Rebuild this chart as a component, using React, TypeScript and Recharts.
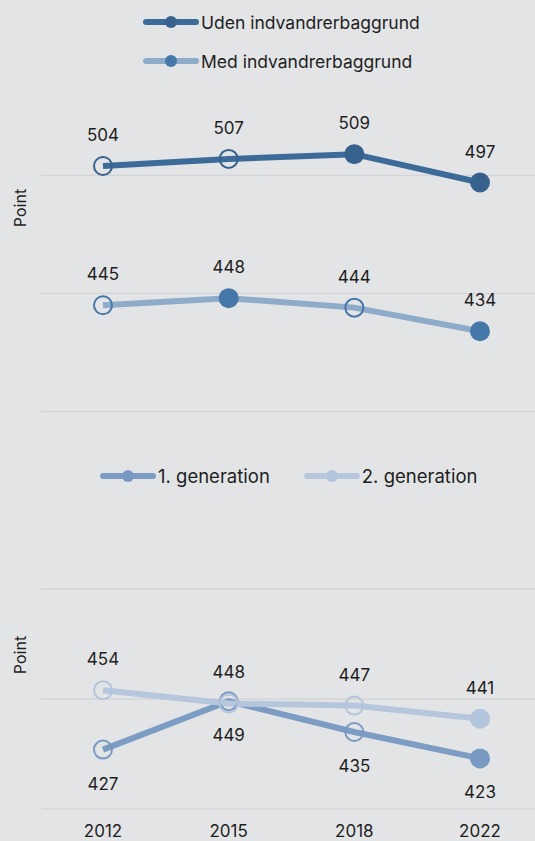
import React from "react";
import {
  LineChart,
  Line,
  XAxis,
  YAxis,
  ReferenceLine,
  LabelList,
  Legend,
} from "recharts";

// years on the x axis
const years = ["2012", "2015", "2018", "2022"];

// top panel
const uden = [504, 507, 509, 497];
const med = [445, 448, 444, 434];
const udenFilled = [false, false, true, true];
const medFilled = [false, true, false, true];

// bottom panel
const gen1 = [427, 449, 435, 423];
const gen2 = [454, 448, 447, 441];
const gen1Filled = [false, false, false, true];
const gen2Filled = [false, false, false, true];

const yTicks = [400, 450, 500];

const BG = "#e3e4e6";
const GRID = "#d3d4d6";
const TEXT = "#1e1e1e";
const FONT = "Inter, 'Noto Sans', sans-serif";

const topData = years.map((year, i) => ({ year, uden: uden[i], med: med[i] }));
const bottomData = years.map((year, i) => ({ year, gen1: gen1[i], gen2: gen2[i] }));

interface SeriesInfo {
  name: string;
  line: string;
  dot: string;
}

const topSeries: SeriesInfo[] = [
  { name: "Uden indvandrerbaggrund", line: "#3c6b9a", dot: "#38628e" },
  { name: "Med indvandrerbaggrund", line: "#8fabca", dot: "#4577a8" },
];

const bottomSeries: SeriesInfo[] = [
  { name: "1. generation", line: "#7c9cc4", dot: "#7999c2" },
  { name: "2. generation", line: "#b6c7dd", dot: "#b3c5dc" },
];

const makeDot = (filled: boolean[], color: string) => (p: any) => {
  const { cx, cy, index } = p;
  if (cx == null || cy == null) return <g key={`d-${index}`} />;
  return filled[index] ? (
    <circle key={`d-${index}`} cx={cx} cy={cy} r={10} fill={color} />
  ) : (
    <circle
      key={`d-${index}`}
      cx={cx}
      cy={cy}
      r={9}
      fill="none"
      stroke={color}
      strokeWidth={2}
    />
  );
};

const makeLabel = (dy: number) => (p: any) => {
  const vb = p.viewBox || {};
  const x = vb.x ?? p.x;
  const y = vb.y ?? p.y;
  if (x == null || y == null) return null;
  return (
    <text
      x={x}
      y={y + dy}
      textAnchor="middle"
      dominantBaseline="central"
      fill={TEXT}
      fontSize={17}
      fontFamily={FONT}
    >
      {p.value}
    </text>
  );
};

const AxisTitle = ({ cy }: { cy: number }) => (
  <text
    x={20}
    y={cy}
    transform={`rotate(-90 20 ${cy})`}
    textAnchor="middle"
    dominantBaseline="central"
    fill={TEXT}
    fontSize={16}
    fontFamily={FONT}
  >
    Point
  </text>
);

const LegendIcon = ({ s }: { s: SeriesInfo }) => (
  <svg width={58} height={14} style={{ display: "block" }}>
    <line x1={4} y1={7} x2={54} y2={7} stroke={s.line} strokeWidth={6} strokeLinecap="round" />
    <circle cx={29} cy={7} r={6} fill={s.dot} />
  </svg>
);

const LegendItem = ({ s, size }: { s: SeriesInfo; size: number }) => (
  <div style={{ display: "flex", alignItems: "center", height: 24 }}>
    <LegendIcon s={s} />
    <span style={{ fontSize: size, color: TEXT, fontFamily: FONT, marginLeft: 1 }}>{s.name}</span>
  </div>
);

const TopLegend = () => (
  <div style={{ display: "flex", flexDirection: "column", gap: 15, paddingLeft: 142 }}>
    {topSeries.map((s) => (
      <LegendItem key={s.name} s={s} size={17.5} />
    ))}
  </div>
);

const BottomLegend = () => (
  <div style={{ display: "flex", flexDirection: "row", gap: 33, paddingLeft: 99 }}>
    {bottomSeries.map((s) => (
      <LegendItem key={s.name} s={s} size={18.5} />
    ))}
  </div>
);

const gridLines = yTicks.map((t) => (
  <ReferenceLine key={t} y={t} stroke={GRID} strokeWidth={1.5} />
));

const App: React.FC = () => {
  return (
    <div
      style={{
        position: "absolute",
        left: 0,
        top: 0,
        width: 535,
        height: 841,
        background: BG,
        overflow: "hidden",
      }}
    >
      <LineChart
        width={535}
        height={440}
        data={topData}
        margin={{ top: 81, right: 0, left: 0, bottom: 28.5 }}
      >
        {gridLines}
        <XAxis dataKey="year" hide padding={{ left: 62, right: 55 }} />
        <YAxis
          width={41}
          domain={[400, 540]}
          ticks={yTicks}
          tick={false}
          axisLine={false}
          tickLine={false}
          label={<AxisTitle cy={208} />}
        />
        <Legend
          layout="horizontal"
          verticalAlign="middle"
          align="center"
          wrapperStyle={{ top: 10, left: 0, width: 535 }}
          content={() => <TopLegend />}
        />
        <Line
          dataKey="uden"
          name={topSeries[0].name}
          stroke={topSeries[0].line}
          strokeWidth={6}
          dot={makeDot(udenFilled, topSeries[0].dot)}
          activeDot={false}
          isAnimationActive={false}
        >
          <LabelList dataKey="uden" content={makeLabel(-31)} />
        </Line>
        <Line
          dataKey="med"
          name={topSeries[1].name}
          stroke={topSeries[1].line}
          strokeWidth={6}
          dot={makeDot(medFilled, topSeries[1].dot)}
          activeDot={false}
          isAnimationActive={false}
        >
          <LabelList dataKey="med" content={makeLabel(-31)} />
        </Line>
      </LineChart>

      <LineChart
        width={535}
        height={401}
        data={bottomData}
        margin={{ top: 149, right: 0, left: 0, bottom: 0 }}
      >
        {gridLines}
        <XAxis
          dataKey="year"
          height={32}
          padding={{ left: 62, right: 55 }}
          axisLine={false}
          tickLine={false}
          tickSize={6}
          tickMargin={10}
          tick={{ fill: TEXT, fontSize: 17, fontFamily: FONT }}
        />
        <YAxis
          width={41}
          domain={[400, 500]}
          ticks={yTicks}
          tick={false}
          axisLine={false}
          tickLine={false}
          label={<AxisTitle cy={215} />}
        />
        <Legend
          layout="horizontal"
          verticalAlign="middle"
          align="center"
          wrapperStyle={{ top: 24, left: 0, width: 535 }}
          content={() => <BottomLegend />}
        />
        <Line
          dataKey="gen1"
          name={bottomSeries[0].name}
          stroke={bottomSeries[0].line}
          strokeWidth={6}
          dot={makeDot(gen1Filled, bottomSeries[0].dot)}
          activeDot={false}
          isAnimationActive={false}
        >
          <LabelList dataKey="gen1" content={makeLabel(34)} />
        </Line>
        <Line
          dataKey="gen2"
          name={bottomSeries[1].name}
          stroke={bottomSeries[1].line}
          strokeWidth={6}
          dot={makeDot(gen2Filled, bottomSeries[1].dot)}
          activeDot={false}
          isAnimationActive={false}
        >
          <LabelList dataKey="gen2" content={makeLabel(-31)} />
        </Line>
      </LineChart>
    </div>
  );
};

export default App;
